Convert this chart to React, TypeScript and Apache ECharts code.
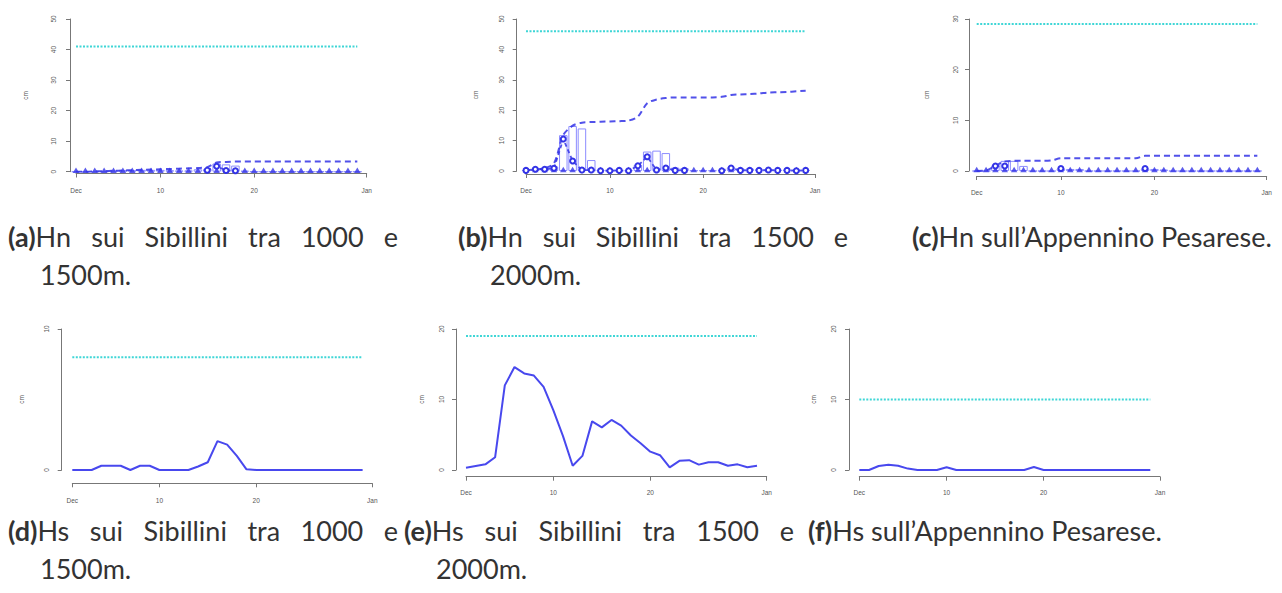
import React, { useEffect, useRef } from "react";
import * as echarts from "echarts";

// ---------- data ----------
const DAYS = [1, 2, 3, 4, 5, 6, 7, 8, 9, 10, 11, 12, 13, 14, 15, 16, 17, 18, 19, 20, 21, 22, 23, 24, 25, 26, 27, 28, 29, 30, 31];
const X_TICKS = [1, 10, 20, 32];
const X_TICK_LABELS = ["Dec", "10", "20", "Jan"];
const Y_MAX = [50, 50, 30, 10, 20, 20];
const MAX_LINE = [41, 46, 29, 8, 19, 10];
const MAX_LINE_X = [1, 31];

// (a) Hn Sibillini 1000-1500m
const A_BARS = [0, 0, 0, 0, 0.4, 0.5, 0.5, 0.6, 0.6, 0.6, 0.5, 0.4, 0.4, 0.8, 0.9, 2.7, 2.4, 2.0, 0.3, 0, 0, 0, 0, 0, 0, 0, 0, 0, 0, 0, 0];
const A_CIRCLES = [null, null, null, null, null, null, null, null, null, null, null, null, null, null, 0.5, 1.8, 0.4, 0.3, null, null, null, null, null, null, null, null, null, null, null, null, null];
const A_TRIANGLES = [0, 0, 0, 0, 0, 0, 0, 0, 0, 0, 0, 0, 0, 0, 0, 0, 0, 0, 0, 0, 0, 0, 0, 0, 0, 0, 0, 0, 0, 0, 0];
const A_CUMUL = [0, 0, 0.1, 0.2, 0.3, 0.4, 0.5, 0.6, 0.7, 0.8, 0.9, 1.0, 1.1, 1.2, 1.5, 3.0, 3.2, 3.3, 3.3, 3.3, 3.3, 3.3, 3.3, 3.3, 3.3, 3.3, 3.3, 3.3, 3.3, 3.3, 3.3];

// (b) Hn Sibillini 1500-2000m
const B_BARS = [0.3, 0.5, 0.8, 1.5, 11.8, 14.8, 14.0, 3.6, 0.3, 0.2, 0.3, 0.2, 2.0, 6.4, 6.7, 5.9, 1.1, 0.9, 0.2, 0.2, 0.2, 0.3, 1.2, 0.8, 0.8, 0.6, 0.6, 0.5, 0.5, 0.4, 0.4];
const B_CIRCLES = [0.2, 0.6, 0.6, 0.9, 10.5, 3.3, 0.3, 0.3, 0.1, 0.1, 0.2, 0.1, 1.7, 4.7, 0.3, 1.0, 0.2, 0.2, null, null, null, 0.1, 1.0, 0.2, 0.2, 0.2, 0.3, 0.2, 0.2, 0.1, 0.2];
const B_TRIANGLES = [0, 0, 0, 0, 0, 0, 0, 0, 0, 0, 0, 0, 0, 0, 0, 0, 0, 0, 0, 0, 0, 0, 0, 0, 0, 0, 0, 0, 0, 0, 0];
const B_CUMUL = [0.3, 0.5, 0.9, 2.5, 11.8, 14.9, 15.9, 16.1, 16.2, 16.3, 16.4, 16.6, 17.9, 22.3, 23.5, 24.0, 24.2, 24.2, 24.2, 24.2, 24.2, 24.4, 25.0, 25.2, 25.3, 25.5, 25.8, 25.9, 26.0, 26.2, 26.4];

// (c) Hn Appennino Pesarese
const C_BARS = [0, 0, 1.1, 2.0, 2.0, 1.0, 0, 0, 0, 0.5, 0.4, 0.4, 0, 0, 0, 0, 0, 0, 0.5, 0.4, 0.3, 0, 0, 0, 0, 0, 0, 0, 0, 0, 0];
const C_CIRCLES = [null, null, 1.0, 1.0, null, null, null, null, null, 0.5, null, null, null, null, null, null, null, null, 0.5, null, null, null, null, null, null, null, null, null, null, null, null];
const C_TRIANGLES = [0, 0, 0, 0, 0, 0, 0, 0, 0, 0, 0, 0, 0, 0, 0, 0, 0, 0, 0, 0, 0, 0, 0, 0, 0, 0, 0, 0, 0, 0, 0];
const C_CUMUL = [0, 0.1, 1.0, 1.9, 2.0, 2.0, 2.0, 2.0, 2.1, 2.5, 2.5, 2.5, 2.5, 2.5, 2.5, 2.5, 2.5, 2.5, 3.0, 3.0, 3.0, 3.0, 3.0, 3.0, 3.0, 3.0, 3.0, 3.0, 3.0, 3.0, 3.0];

// (d)(e)(f) Hs
const D_HS = [0, 0, 0, 0.3, 0.3, 0.3, 0, 0.3, 0.3, 0, 0, 0, 0, 0.25, 0.55, 2.05, 1.8, 1.0, 0.05, 0, 0, 0, 0, 0, 0, 0, 0, 0, 0, 0, 0];
const E_HS = [0.33, 0.57, 0.8, 1.8, 12.0, 14.6, 13.7, 13.4, 11.8, 8.5, 4.8, 0.6, 2.0, 6.9, 6.05, 7.1, 6.3, 4.9, 3.8, 2.6, 2.1, 0.38, 1.3, 1.4, 0.76, 1.1, 1.1, 0.6, 0.8, 0.38, 0.6];
const F_HS = [0, 0, 0.57, 0.76, 0.6, 0.2, 0, 0, 0, 0.4, 0, 0, 0, 0, 0, 0, 0, 0, 0.43, 0, 0, 0, 0, 0, 0, 0, 0, 0, 0, 0, 0];

const CAPTION_LABELS = ["(a)", "(b)", "(c)", "(d)", "(e)", "(f)"];
const CAPTION_TEXTS = [
  "Hn sui Sibillini tra 1000 e 1500m.",
  "Hn sui Sibillini tra 1500 e 2000m.",
  "Hn sull’Appennino Pesarese.",
  "Hs sui Sibillini tra 1000 e 1500m.",
  "Hs sui Sibillini tra 1500 e 2000m.",
  "Hs sull’Appennino Pesarese.",
];

// ---------- layout / style ----------
const LAYOUT = [
  { left: 76, right: 366.7, top: 19, bottom: 171.7, yAxisX: 70, xAxisY: 173.5, yLabelX: 53.5, xLabelY: 190.7, cmX: 25 },
  { left: 526, right: 815, top: 19, bottom: 171, yAxisX: 516.7, xAxisY: 174, yLabelX: 501.7, xLabelY: 190.7, cmX: 475 },
  { left: 976.7, right: 1266.7, top: 19, bottom: 171, yAxisX: 969, xAxisY: 176, yLabelX: 955, xLabelY: 192.5, cmX: 926 },
  { left: 72.3, right: 372.3, top: 329, bottom: 470, yAxisX: 61.7, xAxisY: 483.3, yLabelX: 46.7, xLabelY: 500.7, cmX: 21.7 },
  { left: 466, right: 766.7, top: 329, bottom: 470, yAxisX: 456, xAxisY: 476.7, yLabelX: 441, xLabelY: 492.7, cmX: 421 },
  { left: 859.3, right: 1160, top: 329, bottom: 470, yAxisX: 849, xAxisY: 476.7, yLabelX: 833, xLabelY: 492.7, cmX: 813 },
];
const CAPTION_BOXES = [
  { left: 8, top: 218, width: 390 },
  { left: 458, top: 218, width: 390 },
  { left: 912, top: 218, width: 370 },
  { left: 8, top: 512, width: 390 },
  { left: 404, top: 512, width: 390 },
  { left: 808, top: 512, width: 470 },
];

const BLUE = "#3333e6";
const HS_BLUE = "#4848ee";
const BAR = "#8c8cff";
const CYAN = "#3fd6d6";
const AXIS = "#777777";
const LABEL = "#555555";
const TICK_FONT = "'Liberation Sans', Arial, sans-serif";

const pairs = (vals: (number | null)[]) => DAYS.map((d, k) => [d, vals[k] === null ? "-" : vals[k]]);

function buildOption() {
  const grid = LAYOUT.map((l) => ({ left: l.left, top: l.top, width: l.right - l.left, height: l.bottom - l.top }));
  const xAxis = LAYOUT.map((l, i) => ({
    gridIndex: i,
    type: "value",
    min: 1,
    max: 32,
    offset: l.xAxisY - l.bottom,
    axisLine: { show: true, onZero: false, lineStyle: { color: AXIS, width: 1 } },
    axisTick: { show: true, length: 4, customValues: X_TICKS, lineStyle: { color: AXIS } },
    axisLabel: {
      customValues: X_TICKS,
      formatter: (v: number) => X_TICK_LABELS[X_TICKS.indexOf(v)] ?? "",
      margin: l.xLabelY - l.xAxisY - 3.5,
      fontSize: 6.5,
      color: LABEL,
      fontFamily: TICK_FONT,
    },
    splitLine: { show: false },
  }));
  const yAxis = LAYOUT.map((l, i) => ({
    gridIndex: i,
    type: "value",
    min: 0,
    max: Y_MAX[i],
    interval: 10,
    offset: l.left - l.yAxisX,
    axisLine: { show: true, lineStyle: { color: AXIS, width: 1 } },
    axisTick: { show: true, length: 4, lineStyle: { color: AXIS } },
    axisLabel: { rotate: 90, margin: l.yAxisX - l.yLabelX - 3.5, fontSize: 6.5, color: LABEL, fontFamily: TICK_FONT },
    splitLine: { show: false },
    name: "cm",
    nameLocation: "middle",
    nameRotate: 90,
    nameGap: l.yAxisX - l.cmX - 3.5,
    nameTextStyle: { fontSize: 6.5, color: LABEL, fontFamily: TICK_FONT },
  }));

  const series: any[] = [];
  const hn = [
    [A_BARS, A_CIRCLES, A_TRIANGLES, A_CUMUL],
    [B_BARS, B_CIRCLES, B_TRIANGLES, B_CUMUL],
    [C_BARS, C_CIRCLES, C_TRIANGLES, C_CUMUL],
  ];
  hn.forEach(([bars, circles, tris, cum], i) => {
    series.push({
      type: "bar", xAxisIndex: i, yAxisIndex: i, data: pairs(bars as number[]), barWidth: 8.5, silent: true,
      itemStyle: { color: "rgba(0,0,0,0)", borderColor: BAR, borderWidth: 1 },
    });
    series.push({
      type: "line", xAxisIndex: i, yAxisIndex: i, data: pairs(cum as number[]), showSymbol: false, smooth: 0.3, silent: true,
      lineStyle: { color: BLUE, width: 2, type: [6, 4], opacity: 0.85 },
    });
    series.push({
      type: "line", xAxisIndex: i, yAxisIndex: i, data: pairs(circles as (number | null)[]), symbol: "emptyCircle", symbolSize: 5, silent: true,
      lineStyle: { color: BLUE, width: 1.8, type: [4, 3], opacity: 0.85 },
      itemStyle: { color: BLUE, borderColor: BLUE, borderWidth: 1.2 },
    });
    series.push({
      type: "scatter", xAxisIndex: i, yAxisIndex: i, data: pairs(tris as number[]), symbol: "triangle", symbolSize: [6.5, 5.5], symbolOffset: [0, -1.5], clip: false, silent: true,
      itemStyle: { color: BLUE, opacity: 0.8 },
    });
  });
  [D_HS, E_HS, F_HS].forEach((vals, k) => {
    const i = k + 3;
    series.push({
      type: "line", xAxisIndex: i, yAxisIndex: i, data: pairs(vals), showSymbol: false, silent: true,
      lineStyle: { color: HS_BLUE, width: 2 },
    });
  });
  MAX_LINE.forEach((v, i) => {
    series.push({
      type: "line", xAxisIndex: i, yAxisIndex: i, data: MAX_LINE_X.map((x) => [x, v]), showSymbol: false, silent: true,
      lineStyle: { color: CYAN, width: 2, type: [2, 1.5] },
    });
  });

  return { animation: false, backgroundColor: "#ffffff", grid, xAxis, yAxis, series };
}

export default function App() {
  const ref = useRef<HTMLDivElement>(null);
  useEffect(() => {
    if (!ref.current) return;
    const chart = echarts.init(ref.current, null, { renderer: "svg" });
    chart.setOption(buildOption() as any);
    return () => chart.dispose();
  }, []);
  return (
    <div style={{ position: "fixed", left: 0, top: 0, width: 1282, height: 593, background: "#fff" }}>
      <div ref={ref} style={{ position: "absolute", left: 0, top: 0, width: 1282, height: 593 }} />
      {CAPTION_TEXTS.map((t, i) => (
        <div
          key={i}
          style={{
            position: "absolute",
            left: CAPTION_BOXES[i].left,
            top: CAPTION_BOXES[i].top,
            width: CAPTION_BOXES[i].width,
            boxSizing: "border-box",
            paddingLeft: 32,
            textIndent: -32,
            textAlign: "justify",
            fontFamily: "Lato, 'Open Sans', sans-serif",
            fontSize: 27,
            lineHeight: "38px",
            color: "#333333",
          }}
        >
          <span style={{ fontWeight: 700 }}>{CAPTION_LABELS[i]}</span>
          {t}
        </div>
      ))}
    </div>
  );
}
